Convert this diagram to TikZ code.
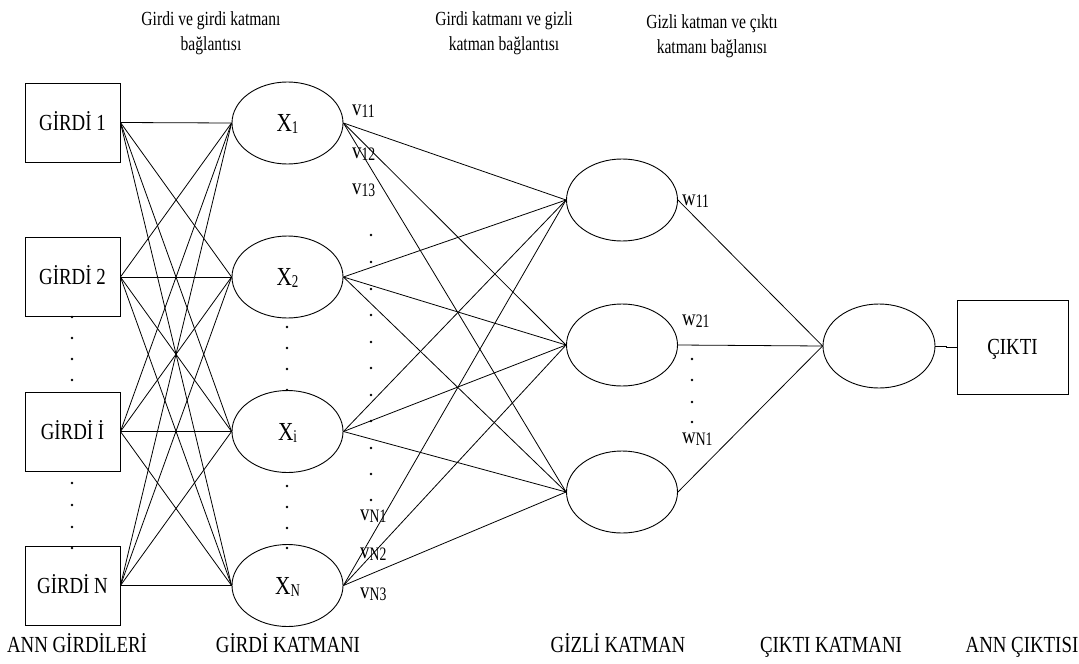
\documentclass[tikz,border=0pt]{standalone}
\usepackage{fontspec}
\setmainfont[FakeStretch=0.82]{Liberation Serif}
\newfontfamily\idxfont[FakeStretch=0.72]{Liberation Serif}
\newfontfamily\headfont[FakeStretch=0.78]{Liberation Serif}
\usetikzlibrary{shapes.geometric}
% lowered index used in neuron names and weight labels
\newcommand\nidx[1]{\raisebox{-2pt}{\idxfont\fontsize{18}{18}\selectfont #1}}
\newcommand\widx[1]{\raisebox{-2pt}{\idxfont\fontsize{19}{19}\selectfont #1}}
\begin{document}
\begin{tikzpicture}[x=1pt,y=-1pt,
  inbox/.style={draw, rectangle, line width=0.9pt, minimum width=95pt, minimum height=79pt,
    inner sep=0pt, font=\fontsize{23}{27}\selectfont, text height=15pt, text depth=0pt},
  neuron/.style={draw, ellipse, line width=0.9pt, minimum width=111pt, minimum height=82pt,
    inner sep=0pt, font=\fontsize{26}{30}\selectfont, text height=17pt, text depth=0pt},
  head/.style={anchor=base, inner sep=0pt, font=\headfont\fontsize{20}{24}\selectfont},
  foot/.style={anchor=base, inner sep=0pt, font=\fontsize{23}{27}\selectfont},
  wlbl/.style={anchor=base west, inner sep=0pt, font=\fontsize{23}{27}\selectfont},
  link/.style={draw, line width=0.8pt},
  dotmark/.style={fill=black}]
\useasboundingbox (0,0) rectangle (1079,664);

% column headings
\node[head] (h1a) at (211,25) {Girdi ve girdi katmanı};
\node[head] (h1b) at (211,50) {bağlantısı};
\node[head] (h2a) at (504,25) {Girdi katmanı ve gizli};
\node[head] (h2b) at (504,50) {katman bağlantısı};
\node[head] (h3a) at (712,28) {Gizli katman ve çıktı};
\node[head] (h3b) at (712,53) {katmanı bağlanısı};

% inputs
\node[inbox] (i1) at (72.5,122.5) {GİRDİ 1};
\node[inbox] (i2) at (72.5,277) {GİRDİ 2};
\node[inbox] (iI) at (72.5,431.5) {GİRDİ İ};
\node[inbox] (iN) at (72.5,585.5) {GİRDİ N};

% input layer
\node[neuron] (x1) at (287.5,123) {X\nidx{1}};
\node[neuron] (x2) at (287.5,277) {X\nidx{2}};
\node[neuron] (xI) at (287.5,431.5) {X\nidx{i}};
\node[neuron] (xN) at (287.5,585.5) {X\nidx{N}};

% hidden layer
\node[neuron] (g1) at (622,200) {};
\node[neuron] (g2) at (622,345) {};
\node[neuron] (g3) at (622,492) {};

% output layer and output
\node[neuron, minimum width=112pt, minimum height=84pt] (o) at (879,346) {};
\node[inbox, minimum width=111pt, minimum height=94pt] (out) at (1012.5,347) {ÇIKTI};

% connections
\foreach \a in {i1,i2,iI,iN}
  \foreach \b in {x1,x2,xI,xN}
    \draw[link] (\a.east) -- (\b.west);
\foreach \a in {x1,x2,xI,xN}
  \foreach \b in {g1,g2,g3}
    \draw[link] (\a.east) -- (\b.west);
\foreach \a in {g1,g2,g3}
  \draw[link] (\a.east) -- (o.west);
\draw[link] (o.east) -- ++(11,0) |- (out.west);

% weight labels
\node[wlbl] (v11) at (352,115) {v\widx{11}};
\node[wlbl] (v12) at (352,158) {v\widx{12}};
\node[wlbl] (v13) at (352,194) {v\widx{13}};
\node[wlbl] (vN1) at (360,520) {v\widx{N1}};
\node[wlbl] (vN2) at (360,558) {v\widx{N2}};
\node[wlbl] (vN3) at (360,598) {v\widx{N3}};
\node[wlbl] (w11) at (682,205) {w\widx{11}};
\node[wlbl] (w21) at (682,325) {w\widx{21}};
\node[wlbl] (wN1) at (682,443) {w\widx{N1}};

% ellipsis dots
\foreach \y in {317,338,359,380,483,505,527,548}
  \fill[dotmark] (72,\y) circle (1.4pt);
\foreach \y in {327,348,369,390,486,507,528,548}
  \fill[dotmark] (287,\y) circle (1.4pt);
\foreach \y in {235,262,289,315,342,368,395,421,448,474,500}
  \fill[dotmark] (371,\y) circle (1.4pt);
\foreach \y in {359,380,402,422}
  \fill[dotmark] (692,\y) circle (1.4pt);

% layer names
\node[foot] (f1) at (77,652) {ANN GİRDİLERİ};
\node[foot] (f2) at (288,652) {GİRDİ KATMANI};
\node[foot] (f3) at (618,652) {GİZLİ KATMAN};
\node[foot] (f4) at (831,652) {ÇIKTI KATMANI};
\node[foot] (f5) at (1022,652) {ANN ÇIKTISI};
\end{tikzpicture}
\end{document}
